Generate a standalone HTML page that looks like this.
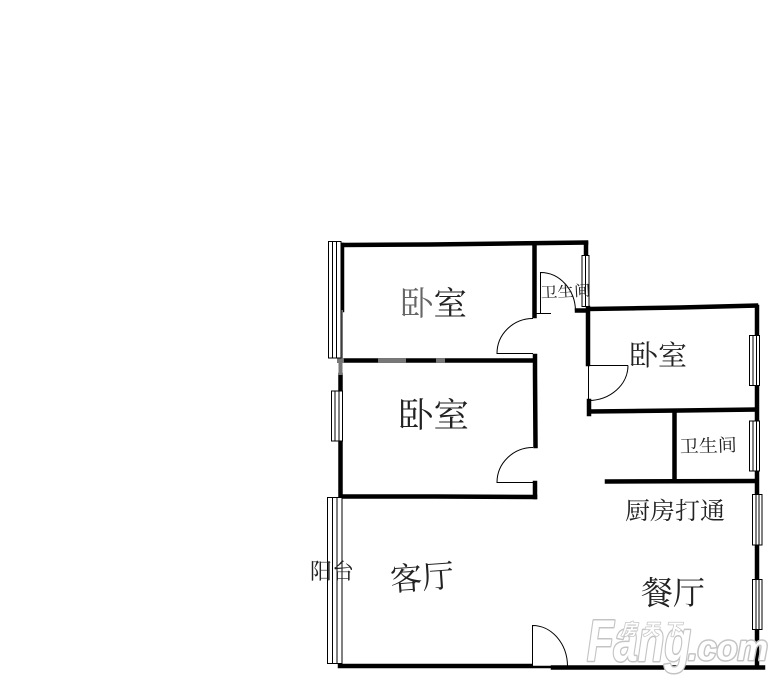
<!DOCTYPE html>
<html lang="zh">
<head>
<meta charset="utf-8">
<title>户型图</title>
<style>
html,body{margin:0;padding:0;background:#fff;width:784px;height:688px;overflow:hidden}
svg{display:block;filter:blur(.3px)}
.t{font-family:"Liberation Serif","Noto Serif CJK SC","Noto Sans CJK SC",serif;font-weight:400;fill:#222}
.wm{font-family:"Liberation Sans","Noto Sans CJK SC",sans-serif;font-weight:700;font-style:italic;fill:#fff;stroke:#c4c4c4;stroke-width:3;stroke-linejoin:round;paint-order:stroke}
</style>
</head>
<body>
<svg width="784" height="688" viewBox="0 0 784 688" xmlns="http://www.w3.org/2000/svg">
<rect width="784" height="688" fill="#fff"/>

<!-- thick walls -->
<g fill="none" stroke="#000" stroke-width="4.5" stroke-linecap="square">
  <path d="M342 245 L430 244.5 L586 242.5"/>
  <path d="M342 245 L342 310"/>
  <path d="M534.5 244 L534.5 316"/>
  <path d="M586 243 L586 255"/>
  <path d="M342 360.5 L534 360.5"/>
  <path d="M535 356 L535 372 L535.5 446"/>
  <path d="M340.5 375 L340.5 391"/>
  <path d="M340.5 441 L340.5 495"/>
  <path d="M341 496.5 L436 496.5 L535 497"/>
  <path d="M535 483 L535 497"/>
  <path d="M588 308 L588 364"/>
  <path d="M589 401 L589 414"/>
  <path d="M589 309 L680 307.5 L756 305.5"/>
  <path d="M757 307 L757 335"/>
  <path d="M757 385 L757 421"/>
  <path d="M590 411.5 L680 410.5 L756 409.5"/>
  <path d="M674.5 412 L674.5 479"/>
  <path d="M607 481.5 L755 481"/>
  <path d="M757 471 L757 494"/>
  <path d="M757 545 L757 579"/>
  <path d="M757 629 L757 665"/>
  <path d="M340 666 L530 666"/>
  <path d="M553 667.5 L763 667.5"/>
  <path d="M577 310.5 L586 310.5"/>
</g>
<path d="M532 667 L553 667" stroke="#000" stroke-width="2.5" fill="none"/>

<!-- faded wall segments -->
<g fill="#777">
  <rect x="378" y="358" width="28" height="5"/>
  <rect x="436" y="358" width="9" height="5"/>
  <rect x="340" y="310" width="3" height="48"/>
  <rect x="337" y="358" width="7" height="5"/>
  <rect x="338.5" y="363" width="4" height="12"/>
</g>

<!-- windows -->
<g fill="#fff" stroke="#000" stroke-width="1">
  <rect x="328.5" y="241.5" width="12.5" height="116.5"/>
  <path d="M332.5 241.5V358M336.5 241.5V358" fill="none"/>
  <rect x="331.5" y="391" width="11" height="50"/>
  <path d="M335 391V441M339 391V441" fill="none"/>
  <rect x="327.5" y="497.5" width="14.5" height="166"/>
  <path d="M332.5 497.5V663.5M337 497.5V663.5" fill="none"/>
  <rect x="582" y="255.5" width="7" height="51"/>
  <path d="M585.5 255.5V306.5" fill="none"/>
  <rect x="749.5" y="335.5" width="10" height="50"/>
  <path d="M753 335.5V385.5M756.5 335.5V385.5" fill="none"/>
  <rect x="749.5" y="421" width="10" height="50"/>
  <path d="M753 421V471M756.5 421V471" fill="none"/>
  <rect x="752.5" y="494.5" width="9.5" height="50.5"/>
  <path d="M756 494.5V545M759 494.5V545" fill="none"/>
  <rect x="752.5" y="579.5" width="9.5" height="50"/>
  <path d="M756 579.5V629.5M759 579.5V629.5" fill="none"/>
</g>

<!-- doors -->
<g fill="none" stroke="#000" stroke-width="1">
  <path d="M533 318.5 A36 35 0 0 0 497 353.5 H533"/>
  <path d="M533 447.5 A36 35 0 0 0 497 482.5 H533"/>
  <path d="M532.5 666 V625.5 A35 41 0 0 1 567.5 666"/>
  <path d="M628 365.5 H588.5 V400.5 A40 35 0 0 0 628 365.5"/>
  <path d="M540.5 313 V272.5 A35 39 0 0 1 575.5 311"/>
  <path d="M536 313.5 H551"/>
</g>

<!-- labels -->
<text class="t" x="400" y="315" font-size="33" textLength="67" lengthAdjust="spacingAndGlyphs"><tspan fill="#666">卧</tspan>室</text>
<text class="t" x="398" y="427" font-size="34" textLength="71" lengthAdjust="spacingAndGlyphs">卧室</text>
<text class="t" x="629" y="365" font-size="28" textLength="58" lengthAdjust="spacingAndGlyphs">卧室</text>
<text class="t" x="541" y="298" font-size="15" textLength="50" lengthAdjust="spacingAndGlyphs" transform="rotate(-3 541 298)">卫生间</text>
<text class="t" x="680" y="453" font-size="18" textLength="57" lengthAdjust="spacingAndGlyphs" transform="rotate(-2 680 453)">卫生间</text>
<text class="t" x="625" y="519" font-size="24" textLength="100" lengthAdjust="spacingAndGlyphs">厨房打通</text>
<text class="t" x="391" y="591" font-size="32" textLength="64" lengthAdjust="spacingAndGlyphs" transform="rotate(-4 391 591)">客厅</text>
<text class="t" x="641" y="604" font-size="32" textLength="64" lengthAdjust="spacingAndGlyphs">餐厅</text>
<text class="t" x="310" y="579" font-size="22" textLength="44" lengthAdjust="spacingAndGlyphs">阳台</text>

<!-- watermark -->
<text class="wm" x="587" y="661" font-size="58" textLength="104" lengthAdjust="spacingAndGlyphs">Fang</text>
<text class="wm" x="688" y="660" font-size="36" textLength="80" lengthAdjust="spacingAndGlyphs">.com</text>
<text class="wm" x="621" y="635" font-size="16" textLength="60" style="stroke-width:1.5">房天下</text>
</svg>
</body>
</html>
